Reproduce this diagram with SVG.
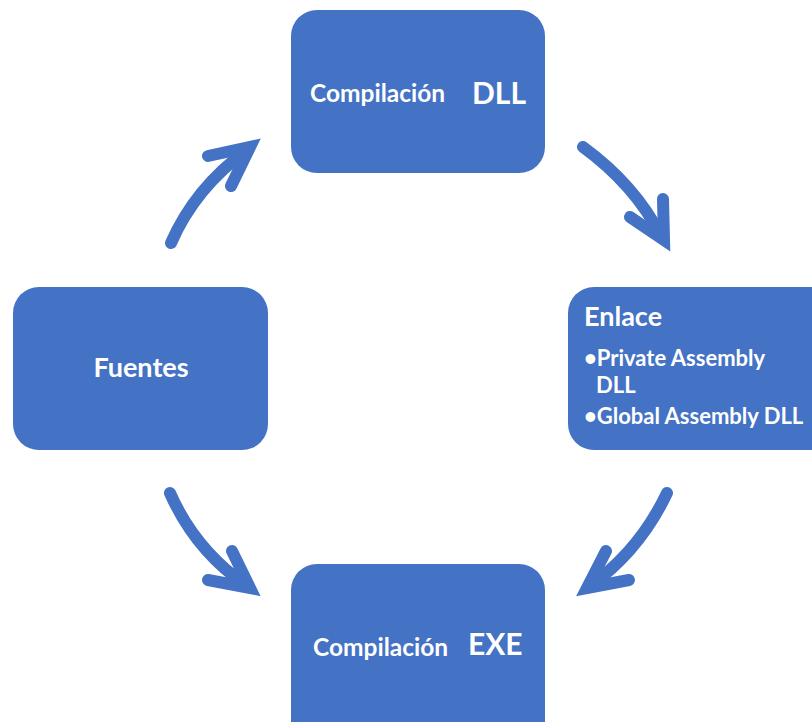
<svg xmlns="http://www.w3.org/2000/svg" width="812" height="722" viewBox="0 0 812 722">
<style>
.box{fill:#4472C4;}
.t{fill:#fff;font-family:Lato,"Open Sans","Liberation Sans",sans-serif;font-weight:bold;}
.ar{fill:none;stroke:#4472C4;stroke-width:12;stroke-linecap:round;stroke-linejoin:miter;stroke-miterlimit:10;}
</style>
<rect width="812" height="722" fill="#fff"/>
<g id="connectors">
<path class="ar" d="M171,243 Q195,188 247,150"/>
<polyline class="ar" points="208,156 250,147 231,186"/>
<path class="ar" d="M583,147 Q635,185 661,236"/>
<polyline class="ar" points="663,199 664,240 630,217"/>
<path class="ar" d="M667,493 Q640,550 590,586"/>
<polyline class="ar" points="606,551 587,588 629,580"/>
<path class="ar" d="M170,493 Q195,550 247,586"/>
<polyline class="ar" points="232,551 250,588 208,580"/>
</g>
<g id="node-dll">
<rect class="box" x="291" y="10" width="254" height="163" rx="26"/>
<text class="t" x="310" y="102" font-size="24.5">Compilación</text>
<text class="t" x="472" y="104" font-size="30">DLL</text>
</g>
<g id="node-fuentes">
<rect class="box" x="13" y="287" width="255" height="163" rx="26"/>
<text class="t" x="141" y="377" font-size="27" text-anchor="middle">Fuentes</text>
</g>
<g id="node-enlace">
<rect class="box" x="568" y="287" width="270" height="163" rx="26"/>
<text class="t" x="584" y="326" font-size="27">Enlace</text>
<text class="t" x="584" y="366" font-size="22">•Private Assembly</text>
<text class="t" x="596" y="393" font-size="22">DLL</text>
<text class="t" x="584" y="424" font-size="22">•Global Assembly DLL</text>
</g>
<g id="node-exe">
<rect class="box" x="291" y="564" width="254" height="190" rx="26"/>
<text class="t" x="313" y="656" font-size="24.5">Compilación</text>
<text class="t" x="468" y="655" font-size="30">EXE</text>
</g>
</svg>
